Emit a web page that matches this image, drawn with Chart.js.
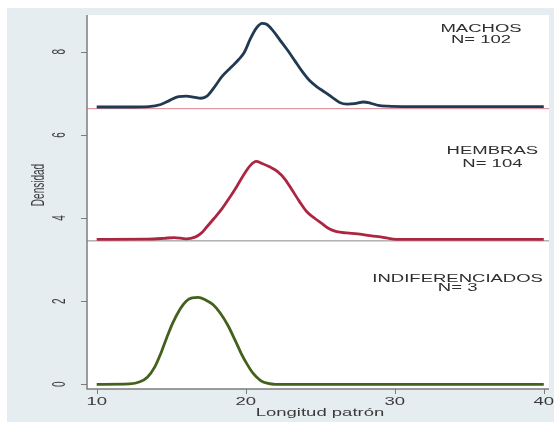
<!DOCTYPE html>
<html>
<head>
<meta charset="utf-8">
<script src="https://cdn.jsdelivr.net/npm/chart.js@4/dist/chart.umd.min.js"></script>
<style>
  html, body { margin: 0; padding: 0; background: #ffffff; }
  canvas { display: block; }
</style>
</head>
<body>
<canvas id="c" width="557" height="422"></canvas>
<script>
// Kernel density of standard length, stacked by group (each curve shifted by its baseline)
const machosX = [10, 12, 13.5, 14.3, 14.9, 15.5, 16.0, 16.5, 17.0, 17.4, 17.9, 18.4, 19.0, 19.5, 19.9, 20.3, 20.7, 21.1, 21.4, 21.8, 22.3, 22.8, 23.3, 23.8, 24.3, 24.8, 25.3, 25.8, 26.3, 26.8, 27.3, 27.9, 28.4, 28.9, 29.5, 31, 40];
const machosY = [6.67, 6.67, 6.68, 6.73, 6.83, 6.92, 6.93, 6.91, 6.88, 6.93, 7.15, 7.40, 7.62, 7.80, 7.98, 8.30, 8.56, 8.68, 8.66, 8.52, 8.28, 8.04, 7.78, 7.52, 7.30, 7.15, 7.03, 6.90, 6.78, 6.74, 6.75, 6.79, 6.76, 6.71, 6.69, 6.68, 6.68];

const hembrasX = [10, 13.4, 14.5, 15.2, 16.0, 16.6, 17.0, 17.4, 17.9, 18.4, 18.9, 19.4, 19.9, 20.3, 20.7, 21.1, 21.6, 22.1, 22.6, 23.1, 23.6, 24.1, 24.6, 25.1, 25.6, 26.1, 26.8, 27.5, 28.2, 28.9, 29.6, 30.4, 40];
const hembrasY = [3.485, 3.49, 3.51, 3.53, 3.50, 3.54, 3.63, 3.79, 4.00, 4.22, 4.48, 4.76, 5.06, 5.26, 5.36, 5.31, 5.23, 5.13, 4.95, 4.68, 4.40, 4.15, 4.00, 3.87, 3.74, 3.67, 3.64, 3.62, 3.58, 3.55, 3.51, 3.485, 3.485];

const indifX = [10, 12.2, 12.9, 13.4, 13.9, 14.3, 14.7, 15.1, 15.6, 16.0, 16.4, 16.8, 17.3, 17.8, 18.3, 18.8, 19.3, 19.7, 20.1, 20.5, 21.0, 21.5, 22.0, 40];
const indifY = [0, 0.01, 0.06, 0.17, 0.42, 0.74, 1.12, 1.47, 1.81, 2.00, 2.08, 2.09, 2.03, 1.92, 1.71, 1.42, 1.05, 0.74, 0.48, 0.26, 0.09, 0.02, 0, 0];

// Reference lines under the upper two curves
const baselineMachos = 6.63;
const baselineHembras = 3.45;

// Axis ticks
const xTicks = [10, 20, 30, 40];
const yTicks = [0, 2, 4, 6, 8];

// Group labels: [line 1, line 2, x, y1, y2]
const groupLabels = [
  ["MACHOS", "N= 102", 35.79, 8.55, 8.28],
  ["HEMBRAS", "N= 104", 36.55, 5.61, 5.30],
  ["INDIFERENCIADOS", "N= 3", 34.22, 2.53, 2.31]
];

const xTitle = "Longitud patrón";
const yTitle = "Densidad";

const toPoints = (xs, ys) => xs.map((x, i) => ({ x: x, y: ys[i] }));
const hLine = (v) => [{ x: 9.35, y: v }, { x: 40.35, y: v }];

const FONT = '10px "Liberation Sans", Arial, sans-serif';
const STRETCH = 1.85;

const frame = {
  id: 'frame',
  beforeDraw(chart) {
    const ctx = chart.ctx;
    const a = chart.chartArea;
    ctx.save();
    ctx.fillStyle = '#ffffff';
    ctx.fillRect(0, 0, chart.width, chart.height);
    ctx.fillStyle = '#e6edf1';
    ctx.fillRect(7, 8, chart.width - 10, chart.height - 8);
    ctx.fillStyle = '#ffffff';
    ctx.fillRect(a.left, a.top, a.right - a.left, a.bottom - a.top);
    ctx.restore();
  },
  afterDraw(chart) {
    const ctx = chart.ctx;
    const a = chart.chartArea;
    const xs = chart.scales.x, ys = chart.scales.y;
    ctx.save();
    // axis lines
    ctx.strokeStyle = '#7c7c7c';
    ctx.lineWidth = 1.5;
    ctx.beginPath();
    ctx.moveTo(a.left, a.top);
    ctx.lineTo(a.left, a.bottom);
    ctx.lineTo(a.right, a.bottom);
    ctx.stroke();
    // tick marks
    ctx.lineWidth = 1;
    ctx.beginPath();
    yTicks.forEach(v => {
      const py = Math.round(ys.getPixelForValue(v)) + 0.5;
      ctx.moveTo(a.left - 6, py); ctx.lineTo(a.left, py);
    });
    xTicks.forEach(v => {
      const px = Math.round(xs.getPixelForValue(v)) + 0.5;
      ctx.moveTo(px, a.bottom); ctx.lineTo(px, a.bottom + 5);
    });
    ctx.stroke();

    ctx.font = FONT;
    ctx.fillStyle = '#3a3a3a';
    ctx.textAlign = 'center';
    ctx.textBaseline = 'middle';
    // x tick labels
    xTicks.forEach(v => {
      ctx.save();
      ctx.translate(xs.getPixelForValue(v), 402.5);
      ctx.scale(STRETCH, 1);
      ctx.fillText(String(v), 0, 0);
      ctx.restore();
    });
    // y tick labels, vertical
    yTicks.forEach(v => {
      ctx.save();
      ctx.translate(60, ys.getPixelForValue(v));
      ctx.scale(STRETCH, 1);
      ctx.rotate(-Math.PI / 2);
      ctx.fillText(String(v), 0, 0);
      ctx.restore();
    });
    // axis titles
    ctx.save();
    ctx.translate(320, 413);
    ctx.scale(STRETCH, 1);
    ctx.fillText(xTitle, 0, 0);
    ctx.restore();
    ctx.save();
    ctx.translate(38.5, 185);
    ctx.scale(STRETCH, 1);
    ctx.rotate(-Math.PI / 2);
    ctx.fillText(yTitle, 0, 0);
    ctx.restore();
    // group labels
    ctx.fillStyle = '#2e2e2e';
    groupLabels.forEach(g => {
      const px = xs.getPixelForValue(g[2]);
      [[g[0], g[3]], [g[1], g[4]]].forEach(t => {
        ctx.save();
        ctx.translate(px, ys.getPixelForValue(t[1]));
        ctx.scale(STRETCH, 1);
        ctx.fillText(t[0], 0, 0);
        ctx.restore();
      });
    });
    ctx.restore();
  }
};

const curve = (data, color) => ({
  data: data,
  borderColor: color,
  borderWidth: 2.8,
  pointRadius: 0,
  showLine: true,
  tension: 0.4,
  cubicInterpolationMode: 'monotone',
  fill: false
});

const refLine = (v, color) => ({
  data: hLine(v),
  borderColor: color,
  borderWidth: 1,
  pointRadius: 0,
  showLine: true,
  fill: false
});

new Chart(document.getElementById('c'), {
  type: 'scatter',
  data: {
    datasets: [
      curve(toPoints(machosX, machosY), '#203a52'),
      curve(toPoints(hembrasX, hembrasY), '#ad2641'),
      curve(toPoints(indifX, indifY), '#44601d'),
      refLine(baselineMachos, '#d98591'),
      refLine(baselineHembras, '#8a8a8a')
    ]
  },
  options: {
    responsive: false,
    animation: false,
    devicePixelRatio: 1,
    layout: { padding: { left: 87, top: 15, right: 8, bottom: 33 } },
    plugins: { legend: { display: false }, tooltip: { enabled: false } },
    scales: {
      x: { type: 'linear', display: false, min: 9.35, max: 40.35 },
      y: { type: 'linear', display: false, min: -0.113, max: 8.883 }
    }
  },
  plugins: [frame]
});
</script>
</body>
</html>
